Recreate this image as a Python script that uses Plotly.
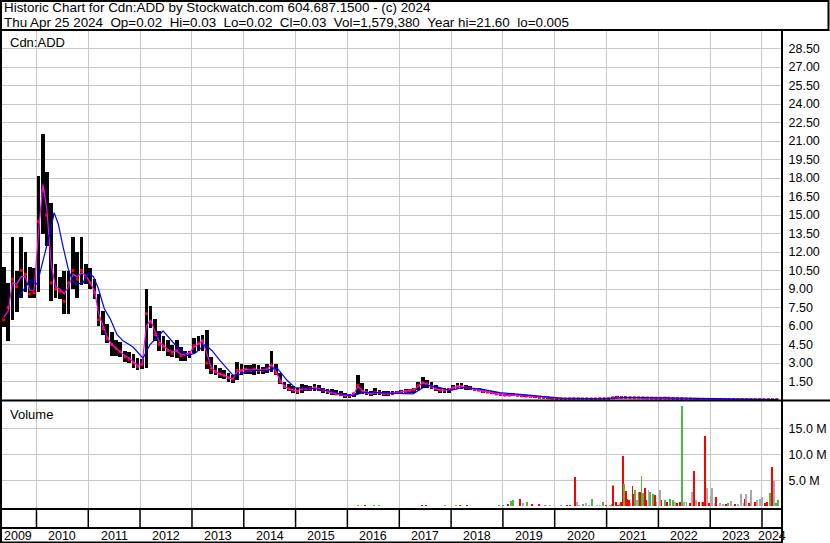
import plotly.graph_objects as go
import pandas as pd

# ---------------- data ----------------
MONTH_START = "2009-04-01"
N_MONTHS = 181  # Apr 2009 .. Apr 2024

high = [
    7.3, 10.8, 9.5, 13.2, 10.5, 13.2, 12.0, 10.8, 10.7,
    18.2, 21.6, 18.5, 16.0, 11.0, 10.0, 10.5, 10.5, 13.2, 12.0, 13.2, 11.0,
    10.7, 9.8, 8.6, 7.2, 6.2, 5.5, 4.9, 4.7, 4.0, 3.9, 3.7, 3.4,
    3.3, 9.0, 7.6, 6.6, 5.6, 5.2, 4.9, 4.5, 4.9, 4.3, 4.0, 4.0,
    5.0, 5.2, 5.3, 5.7, 3.5, 2.8, 2.6, 2.4, 2.2, 2.0, 3.1, 2.9,
    2.8, 2.8, 2.9, 2.8, 2.7, 2.9, 4.0, 2.9, 2.2, 1.5, 1.3, 1.1,
    1.0, 1.3, 1.2, 1.1, 1.3, 1.2, 1.0, 0.9, 0.9, 0.8, 0.7, 0.6,
    0.5, 0.6, 2.0, 1.4, 0.9, 0.7, 1.0, 0.8, 0.7, 0.7, 0.7, 0.7,
    0.8, 0.9, 0.9, 1.0, 1.5, 1.9, 1.6, 1.5, 1.2, 1.0, 0.95, 1.0,
    1.2, 1.35, 1.35, 1.2, 1.1, 1.0, 0.95, 0.9, 0.8, 0.7, 0.65, 0.55,
    0.5, 0.5, 0.6, 0.5, 0.45, 0.42, 0.4, 0.35, 0.32, 0.28, 0.25, 0.22,
    0.2, 0.18, 0.15, 0.12, 0.12, 0.12, 0.11, 0.12, 0.11, 0.1, 0.12, 0.14,
    0.15, 0.25, 0.3, 0.35, 0.32, 0.28, 0.26, 0.25, 0.24, 0.22, 0.22, 0.2,
    0.2, 0.22, 0.2, 0.18, 0.16, 0.14, 0.12, 0.1, 0.09, 0.08, 0.08, 0.07,
    0.07, 0.065, 0.06, 0.06, 0.055, 0.05, 0.05, 0.05, 0.045, 0.045, 0.04, 0.04,
    0.04, 0.04, 0.035, 0.03,
]
low = [
    5.8, 5.9, 4.8, 6.5, 7.1, 8.3, 8.8, 8.3, 8.3,
    8.8, 13.5, 12.5, 8.0, 8.3, 8.2, 7.0, 7.0, 9.0, 8.3, 9.3, 9.4,
    9.0, 8.2, 6.0, 5.3, 4.6, 3.6, 3.6, 3.5, 3.1, 3.0, 2.6, 2.4,
    2.5, 2.6, 5.8, 4.8, 4.0, 4.0, 3.6, 3.5, 3.4, 3.2, 3.2, 3.4,
    3.8, 4.0, 4.0, 2.5, 2.1, 2.0, 1.8, 1.7, 1.5, 1.4, 1.6, 2.0,
    2.1, 2.1, 2.0, 2.1, 2.1, 2.2, 2.3, 2.0, 1.3, 0.9, 0.7, 0.6,
    0.5, 0.6, 0.7, 0.7, 0.7, 0.7, 0.6, 0.5, 0.4, 0.4, 0.3, 0.2,
    0.2, 0.25, 0.5, 0.5, 0.4, 0.35, 0.4, 0.4, 0.35, 0.35, 0.4, 0.45,
    0.5, 0.55, 0.6, 0.6, 0.8, 1.0, 1.0, 0.9, 0.7, 0.6, 0.6, 0.6,
    0.8, 0.9, 0.9, 0.85, 0.8, 0.75, 0.7, 0.6, 0.55, 0.5, 0.45, 0.35,
    0.32, 0.3, 0.35, 0.3, 0.28, 0.25, 0.22, 0.2, 0.18, 0.14, 0.12, 0.1,
    0.09, 0.08, 0.05, 0.05, 0.06, 0.06, 0.06, 0.06, 0.05, 0.05, 0.06, 0.07,
    0.07, 0.08, 0.15, 0.15, 0.15, 0.14, 0.13, 0.13, 0.12, 0.12, 0.11, 0.1,
    0.1, 0.11, 0.1, 0.09, 0.08, 0.07, 0.06, 0.05, 0.04, 0.04, 0.035, 0.03,
    0.03, 0.03, 0.025, 0.025, 0.02, 0.02, 0.02, 0.02, 0.015, 0.015, 0.015, 0.01,
    0.01, 0.005, 0.015, 0.02,
]
close = [
    6.2, 6.5, 7.5, 9.8, 9.2, 10.5, 10.2, 8.6, 8.7,
    14.5, 17.0, 15.0, 9.5, 9.0, 8.8, 8.0, 9.5, 10.5, 9.8, 10.5, 10.0,
    9.5, 8.7, 6.5, 5.8, 5.0, 4.5, 4.2, 3.9, 3.5, 3.3, 3.0, 2.7,
    2.9, 7.0, 6.3, 5.3, 4.5, 4.3, 4.0, 3.8, 4.0, 3.6, 3.7, 3.8,
    4.4, 4.6, 4.8, 3.0, 2.5, 2.3, 2.1, 2.0, 1.8, 1.7, 2.4, 2.4,
    2.5, 2.4, 2.5, 2.4, 2.4, 2.5, 2.8, 2.2, 1.5, 1.1, 0.9, 0.8,
    0.7, 0.9, 0.9, 0.9, 1.0, 0.9, 0.8, 0.7, 0.6, 0.5, 0.45, 0.35,
    0.35, 0.5, 1.2, 0.7, 0.6, 0.5, 0.6, 0.6, 0.5, 0.5, 0.55, 0.6,
    0.65, 0.7, 0.75, 0.85, 1.2, 1.4, 1.3, 1.1, 0.9, 0.8, 0.8, 0.85,
    1.0, 1.1, 1.1, 1.0, 0.95, 0.85, 0.8, 0.7, 0.65, 0.6, 0.5, 0.45,
    0.4, 0.4, 0.45, 0.38, 0.35, 0.32, 0.3, 0.27, 0.22, 0.2, 0.17, 0.14,
    0.12, 0.1, 0.08, 0.08, 0.09, 0.09, 0.08, 0.09, 0.08, 0.08, 0.1, 0.1,
    0.1, 0.18, 0.22, 0.2, 0.2, 0.19, 0.18, 0.18, 0.17, 0.16, 0.15, 0.14,
    0.14, 0.15, 0.14, 0.12, 0.11, 0.1, 0.08, 0.07, 0.06, 0.05, 0.05, 0.045,
    0.045, 0.04, 0.04, 0.04, 0.035, 0.035, 0.03, 0.03, 0.03, 0.03, 0.025, 0.025,
    0.025, 0.025, 0.025, 0.03,
]
# short moving average (magenta), May 2009 .. Apr 2024
ma_short = [
    6.7, 7.2, 9.5, 9.4, 10.0, 10.0, 8.9, 8.9,
    13.5, 17.5, 15.5, 11.0, 9.2, 9.0, 8.6, 9.2, 10.2, 10.0, 10.3, 10.1,
    9.5, 8.8, 7.0, 6.0, 5.1, 4.5, 4.2, 3.9, 3.6, 3.4, 3.1, 2.8,
    2.9, 6.0, 6.5, 5.5, 4.7, 4.4, 4.1, 3.9, 4.0, 3.7, 3.7, 3.8,
    4.3, 4.5, 4.8, 3.8, 2.7, 2.3, 2.1, 2.0, 1.8, 1.7, 2.3, 2.4,
    2.5, 2.4, 2.5, 2.4, 2.4, 2.5, 2.9, 2.3, 1.6, 1.1, 0.9, 0.8,
    0.75, 0.9, 0.95, 0.9, 1.0, 0.9, 0.8, 0.7, 0.6, 0.5, 0.45, 0.35,
    0.35, 0.45, 1.1, 0.8, 0.6, 0.5, 0.6, 0.6, 0.5, 0.5, 0.55, 0.6,
    0.65, 0.7, 0.75, 0.85, 1.1, 1.4, 1.3, 1.1, 0.9, 0.8, 0.8, 0.85,
    1.0, 1.1, 1.1, 1.0, 0.95, 0.85, 0.8, 0.7, 0.65, 0.6, 0.5, 0.45,
    0.4, 0.4, 0.45, 0.4, 0.35, 0.32, 0.3, 0.27, 0.23, 0.2, 0.17, 0.14,
    0.12, 0.1, 0.09, 0.08, 0.09, 0.09, 0.08, 0.09, 0.08, 0.08, 0.09, 0.1,
    0.1, 0.16, 0.21, 0.21, 0.2, 0.19, 0.18, 0.18, 0.17, 0.16, 0.15, 0.14,
    0.14, 0.15, 0.14, 0.12, 0.11, 0.1, 0.08, 0.07, 0.06, 0.05, 0.05, 0.045,
    0.045, 0.04, 0.04, 0.04, 0.035, 0.035, 0.03, 0.03, 0.03, 0.03, 0.025, 0.025,
    0.025, 0.025, 0.025, 0.03,
]
# long moving average (blue): decimal-year time, value
ma_long_t = [2009.647, 2009.879, 2010.013, 2010.168, 2010.27, 2010.341, 2010.42,
             2010.515, 2010.61, 2010.69, 2010.766, 2010.900, 2011.0, 2011.10, 2011.19,
             2011.31, 2011.421, 2011.556, 2011.672, 2011.865, 2012.058, 2012.192,
             2012.443, 2012.713, 2012.906, 2013.06, 2013.253, 2013.388, 2013.542,
             2013.793, 2013.928, 2014.121, 2014.449, 2014.642, 2014.835, 2014.990,
             2015.337, 2015.607, 2015.858, 2016.108, 2016.3, 2016.57, 2017.014,
             2017.264, 2017.534, 2017.785, 2017.978, 2018.21, 2018.557, 2018.943,
             2019.329, 2019.715, 2020.1, 2020.872, 2021.354, 2021.74, 2022.125,
             2022.8, 2024.31]
ma_long_v = [8.3, 9.7, 9.4, 12.0, 13.7, 15.2, 14.3,
             12.4, 10.7, 9.7, 9.4, 9.5, 10.3, 10.0, 9.1,
             7.4, 6.6, 5.3, 4.8, 4.3, 3.4, 4.5,
             5.6, 4.3, 3.6, 3.8, 4.5, 4.0, 3.2,
             2.0, 2.1, 2.4, 2.4, 2.6, 1.6, 1.0,
             0.93, 0.77, 0.5, 0.36, 0.6, 0.6, 0.5,
             0.5, 1.2, 1.0, 0.77, 1.0, 0.9, 0.6,
             0.45, 0.3, 0.15, 0.1, 0.2, 0.2, 0.17,
             0.1, 0.04]

# volume bars: decimal-year time, volume in millions, colour code (r=down, g=up, k=unchanged)
vol_t = [2016.203, 2016.338, 2016.512, 2016.608, 2017.437, 2017.514, 2017.881,
         2018.093, 2018.170, 2018.305, 2018.479, 2018.922, 2018.999, 2019.096,
         2019.154, 2019.192, 2019.327, 2019.385, 2019.462, 2019.558, 2019.693,
         2019.809, 2019.905,
         2020.117, 2020.233, 2020.291, 2020.387, 2020.426, 2020.465, 2020.542,
         2020.600, 2020.658, 2020.716, 2020.812, 2020.870, 2020.928, 2020.986,
         2021.063, 2021.102, 2021.120, 2021.127, 2021.179, 2021.218, 2021.256,
         2021.270, 2021.320, 2021.340, 2021.372, 2021.397, 2021.430, 2021.462,
         2021.500, 2021.525, 2021.551, 2021.590, 2021.622, 2021.647, 2021.674,
         2021.705, 2021.738, 2021.770, 2021.809, 2021.834, 2021.898, 2021.930,
         2021.963, 2022.027, 2022.059, 2022.123, 2022.167, 2022.219, 2022.283,
         2022.316, 2022.361, 2022.413, 2022.457, 2022.496, 2022.542, 2022.605,
         2022.650, 2022.688, 2022.734, 2022.784, 2022.831, 2022.862, 2022.908,
         2022.942, 2022.975, 2023.010, 2023.043, 2023.087, 2023.120, 2023.184,
         2023.247, 2023.313, 2023.344, 2023.409, 2023.473, 2023.536, 2023.588,
         2023.646, 2023.670, 2023.698, 2023.748, 2023.795, 2023.858, 2023.903,
         2023.955, 2024.000, 2024.052, 2024.096, 2024.148, 2024.195, 2024.228,
         2024.265, 2024.309]
vol_m = [0.25, 0.3, 0.25, 0.2, 0.2, 0.3, 0.3,
         0.2, 0.25, 0.25, 0.15, 0.25, 0.2, 0.35,
         1.1, 1.2, 1.4, 0.6, 0.9, 0.5, 0.35,
         0.2, 0.3,
         0.3, 0.2, 0.25, 5.6, 0.9, 0.3, 0.5,
         0.6, 0.3, 1.4, 0.3, 0.3, 0.9, 0.2,
         0.3, 0.5, 4.1, 4.0, 0.9, 0.2, 0.5,
         0.9, 9.7, 4.3, 2.9, 1.5, 1.3, 0.6,
         3.9, 2.4, 3.2, 1.2, 2.8, 2.8, 5.8,
         2.6, 3.5, 1.2, 3.2, 2.8, 2.4, 2.1,
         0.9, 3.1, 1.2, 1.3, 0.9, 1.5, 1.2,
         0.9, 0.6, 0.9, 19.3, 0.9, 0.9, 0.6,
         2.8, 6.7, 1.2, 0.9, 0.9, 0.9, 13.5,
         3.6, 0.6, 2.0, 3.6, 0.6, 1.7, 0.6,
         0.5, 0.4, 0.7, 1.0, 0.5, 0.5, 2.3,
         0.7, 1.5, 2.4, 0.6, 3.1, 0.9, 1.2,
         1.5, 1.8, 0.6, 0.9, 2.6, 7.6, 4.9,
         0.6, 1.2]
vol_c = ["g", "r", "g", "g", "r", "r", "g",
         "g", "r", "r", "k", "g", "g", "r",
         "g", "g", "r", "k", "g", "r", "r",
         "g", "k",
         "k", "r", "r", "r", "k", "k", "g",
         "k", "k", "g", "k", "k", "g", "r",
         "k", "g", "k", "r", "r", "r", "g",
         "r", "r", "g", "r", "r", "r", "k",
         "r", "r", "g", "k", "g", "r", "g",
         "g", "r", "r", "k", "g", "g", "r",
         "k", "k", "r", "g", "r", "g", "g",
         "k", "r", "r", "g", "k", "g", "r",
         "k", "r", "k", "r", "k", "r", "r",
         "k", "r", "k", "k", "k", "r", "k",
         "k", "r", "g", "k", "r", "k", "k",
         "k", "r", "k", "r", "k", "r", "k",
         "k", "k", "r", "r", "g", "r", "k",
         "g", "g"]

price_ticks = [1.5, 3.0, 4.5, 6.0, 7.5, 9.0, 10.5, 12.0, 13.5, 15.0, 16.5, 18.0,
               19.5, 21.0, 22.5, 24.0, 25.5, 27.0, 28.5]
volume_ticks_m = [5, 10, 15]
years = list(range(2009, 2025))

header1 = "Historic Chart for Cdn:ADD by Stockwatch.com 604.687.1500 - (c) 2024"
header2 = ("Thu Apr 25 2024  Op=0.02  Hi=0.03  Lo=0.02  Cl=0.03  "
           "Vol=1,579,380  Year hi=21.60  lo=0.005")

# ---------------- styling ----------------
W, H = 830, 543
FONT = "Liberation Sans, Arial, sans-serif"
GRID = "#c8c8c8"
VCOL = {"r": "#ff0000", "g": "#4cb848", "k": "#a9a9a9"}
X_RANGE = ["2009-04-19", "2024-05-21"]


def dec_to_ts(t):
    y = int(t)
    a, b = pd.Timestamp(y, 1, 1), pd.Timestamp(y + 1, 1, 1)
    return a + (b - a) * (t - y)


def px(x):
    return x / W


def py(y):
    return 1 - y / H


months = pd.date_range(MONTH_START, periods=N_MONTHS, freq="MS")
mid = months + pd.Timedelta(days=14)
span = [h - l for h, l in zip(high, low)]

fig = go.Figure()
fig.add_trace(go.Bar(x=mid, y=span, base=low, width=26 * 86400000,
                     marker=dict(color="#000000", line=dict(width=0)),
                     xaxis="x", yaxis="y", showlegend=False))
fig.add_trace(go.Scatter(x=mid, y=close, mode="markers",
                         marker=dict(symbol="square", size=3, color="#ff0000",
                                     line=dict(width=0)),
                         xaxis="x", yaxis="y", showlegend=False))
fig.add_trace(go.Scatter(x=mid[1:], y=ma_short, mode="lines",
                         line=dict(color="#ff00ff", width=1.2),
                         xaxis="x", yaxis="y", showlegend=False))
fig.add_trace(go.Scatter(x=[dec_to_ts(t) for t in ma_long_t], y=ma_long_v,
                         mode="lines", line=dict(color="#0000ff", width=1.2),
                         xaxis="x", yaxis="y", showlegend=False))
fig.add_trace(go.Bar(x=[dec_to_ts(t) for t in vol_t],
                     y=[v * 1e6 for v in vol_m], width=1.15e9,
                     marker=dict(color=[VCOL[c] for c in vol_c], line=dict(width=0)),
                     xaxis="x2", yaxis="y2", showlegend=False))

year_starts = [pd.Timestamp(y, 1, 1) for y in years[1:]]

axis_common = dict(type="date", range=X_RANGE, domain=[0, px(782)],
                   tickvals=year_starts, showticklabels=False, ticks="",
                   showgrid=True, gridcolor=GRID, gridwidth=1,
                   zeroline=False, showline=False, fixedrange=True)

fig.update_layout(
    width=W, height=H, margin=dict(l=0, r=0, t=0, b=0),
    paper_bgcolor="white", plot_bgcolor="white",
    barmode="overlay", bargap=0,
    font=dict(family=FONT, size=12.5, color="#000000"),
    xaxis=dict(anchor="y", **axis_common),
    xaxis2=dict(anchor="y2", matches="x", **axis_common),
    yaxis=dict(domain=[py(400), py(31)], range=[0, 29.93], side="right",
               anchor="x", tickvals=price_ticks,
               ticktext=["%.2f" % v for v in price_ticks],
               ticks="outside", ticklen=3, tickcolor="rgba(0,0,0,0)",
               showgrid=True, gridcolor=GRID, zeroline=False, showline=False,
               fixedrange=True,
               tickfont=dict(family=FONT, size=12.5, color="#000000")),
    yaxis2=dict(domain=[py(508), py(401)], range=[-0.327e6, 20.25e6], side="right",
                anchor="x2", tickvals=[v * 1e6 for v in volume_ticks_m],
                ticktext=["%.1f M" % v for v in volume_ticks_m],
                ticks="outside", ticklen=3, tickcolor="rgba(0,0,0,0)",
                showgrid=True, gridcolor=GRID, zeroline=False, showline=False,
                fixedrange=True,
                tickfont=dict(family=FONT, size=12.5, color="#000000")),
)

# frame lines
K = dict(color="#000000", width=2)
shapes = [
    dict(type="rect", xref="paper", yref="paper", x0=px(1), x1=px(828.5),
         y0=py(30), y1=py(1), line=K),
    dict(type="line", xref="paper", yref="paper", x0=px(1), x1=px(1),
         y0=py(30), y1=py(543), line=K),
    dict(type="line", xref="paper", yref="paper", x0=px(782), x1=px(782),
         y0=py(30), y1=py(543), line=K),
    dict(type="line", xref="paper", yref="paper", x0=px(0), x1=px(830),
         y0=py(400.5), y1=py(400.5), line=K),
    dict(type="line", xref="paper", yref="paper", x0=px(0), x1=px(782),
         y0=py(509), y1=py(509), line=K),
    dict(type="line", xref="paper", yref="paper", x0=px(0), x1=px(782),
         y0=py(528), y1=py(528), line=K),
    dict(type="line", xref="paper", yref="paper", x0=px(0), x1=px(782),
         y0=py(542.5), y1=py(542.5), line=K),
]
for ys in year_starts:
    shapes.append(dict(type="line", xref="x", yref="paper", x0=ys, x1=ys,
                       y0=py(509), y1=py(528), line=dict(color="#000000", width=1.5)))
fig.update_layout(shapes=shapes)

ann = []
NB = "\u00a0"
ann.append(dict(text=header1, x=px(2), y=py(8), xref="paper", yref="paper",
                xanchor="left", yanchor="middle", showarrow=False,
                font=dict(family=FONT, size=13.4, color="#000000")))
ann.append(dict(text=header2.replace("  ", NB + NB), x=px(2), y=py(22),
                xref="paper", yref="paper", xanchor="left", yanchor="middle",
                showarrow=False, font=dict(family=FONT, size=13.4, color="#000000")))
ann.append(dict(text="Cdn:ADD", x=px(8), y=py(42.5), xref="paper", yref="paper",
                xanchor="left", yanchor="middle", showarrow=False,
                font=dict(family=FONT, size=13, color="#000000")))
ann.append(dict(text="Volume", x=px(8), y=py(414), xref="paper", yref="paper",
                xanchor="left", yanchor="middle", showarrow=False,
                font=dict(family=FONT, size=13, color="#000000")))

x0 = pd.Timestamp(X_RANGE[0])
x1 = pd.Timestamp(X_RANGE[1])
for y in years:
    a = max(pd.Timestamp(y, 1, 1), x0)
    b = min(pd.Timestamp(y + 1, 1, 1), x1)
    ann.append(dict(text=str(y), x=a + (b - a) / 2, y=py(535.5), xref="x",
                    yref="paper", xanchor="center", yanchor="middle",
                    showarrow=False, font=dict(family=FONT, size=12.5, color="#000000")))
fig.update_layout(annotations=ann)

fig.write_html("out.html",
               config={"displayModeBar": False, "staticPlot": True},
               post_script="document.body.style.margin='0';"
                           "document.body.style.overflow='hidden';")
